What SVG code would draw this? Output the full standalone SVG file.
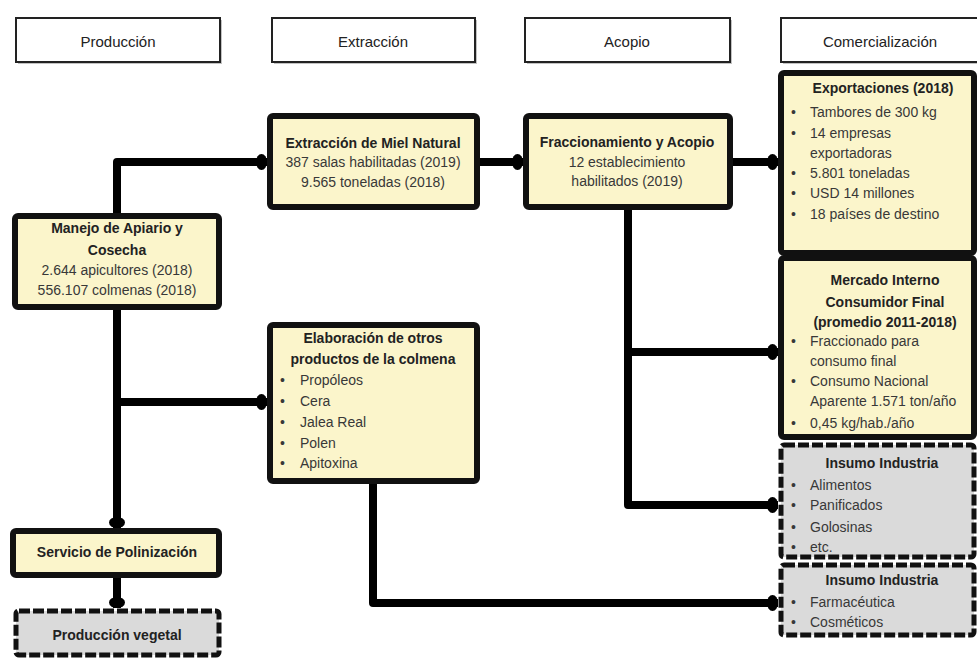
<svg xmlns="http://www.w3.org/2000/svg" width="977" height="660" viewBox="0 0 977 660">
<defs>
<style>
text{font-family:"Liberation Sans",Arial,sans-serif;font-size:14px;fill:#383838}
.b{font-weight:bold;fill:#222}
.c{text-anchor:middle}
.h{font-size:15px;fill:#222}
.hdr{fill:#fff;stroke:#222;stroke-width:2}
.sh{fill:#999;opacity:.6}
.y{fill:#FBF5CB;stroke:#111;stroke-width:6}
.g{fill:#DADADA;stroke:#111;stroke-width:5;stroke-dasharray:11 3}
.con{fill:none;stroke:#000;stroke-width:8;stroke-linejoin:round}
</style>
<marker id="dot" markerUnits="userSpaceOnUse" viewBox="0 0 11 17" markerWidth="11" markerHeight="17" refX="11" refY="8.5" orient="auto">
<ellipse cx="5.5" cy="8.5" rx="5.5" ry="8" fill="#000"/>
</marker>
</defs>
<rect width="977" height="660" fill="#fff"/>

<g id="hdr-produccion">
<rect class="sh" x="18" y="20" width="204" height="44"/>
<rect class="hdr" x="16" y="18" width="204" height="44"/>
<text class="h c" x="118" y="47">Producción</text>
</g>
<g id="hdr-extraccion">
<rect class="sh" x="274" y="20" width="203" height="44"/>
<rect class="hdr" x="272" y="18" width="203" height="44"/>
<text class="h c" x="373" y="47">Extracción</text>
</g>
<g id="hdr-acopio">
<rect class="sh" x="527" y="20" width="205" height="44"/>
<rect class="hdr" x="525" y="18" width="205" height="44"/>
<text class="h c" x="627" y="47">Acopio</text>
</g>
<g id="hdr-comercializacion">
<rect class="sh" x="783" y="20" width="200" height="44"/>
<rect class="hdr" x="781" y="18" width="200" height="44"/>
<text class="h c" x="880" y="47">Comercialización</text>
</g>

<g id="connectors">
<path class="con" d="M117 213 V162 H267" marker-end="url(#dot)"/>
<path class="con" d="M480 162 H523" marker-end="url(#dot)"/>
<path class="con" d="M733 162 H778" marker-end="url(#dot)"/>
<path class="con" d="M628 210 V505 H778" marker-end="url(#dot)"/>
<path class="con" d="M628 352 H778" marker-end="url(#dot)"/>
<path class="con" d="M117 310 V528" marker-end="url(#dot)"/>
<path class="con" d="M117 402 H267" marker-end="url(#dot)"/>
<path class="con" d="M117 578 V608" marker-end="url(#dot)"/>
<path class="con" d="M373 484 V603 H778" marker-end="url(#dot)"/>
</g>

<g id="manejo">
<rect class="y" x="15" y="216" width="204" height="91" rx="3"/>
<text class="b c" x="117" y="233">Manejo de Apiario y</text>
<text class="b c" x="117" y="255">Cosecha</text>
<text class="c" x="117" y="275">2.644 apicultores (2018)</text>
<text class="c" x="117" y="295">556.107 colmenas (2018)</text>
</g>

<g id="extraccion">
<rect class="y" x="270" y="116" width="207" height="91" rx="3"/>
<text class="b c" x="373" y="148">Extracción de Miel Natural</text>
<text class="c" x="373" y="167">387 salas habilitadas (2019)</text>
<text class="c" x="373" y="187">9.565 toneladas (2018)</text>
</g>

<g id="fraccionamiento">
<rect class="y" x="526" y="116" width="204" height="91" rx="3"/>
<text class="b c" x="627" y="147">Fraccionamiento y Acopio</text>
<text class="c" x="627" y="167">12 establecimiento</text>
<text class="c" x="627" y="186">habilitados (2019)</text>
</g>

<g id="elaboracion">
<rect class="y" x="270" y="325" width="207" height="156" rx="3"/>
<text class="b c" x="373" y="343">Elaboración de otros</text>
<text class="b c" x="373" y="364">productos de la colmena</text>
<text x="280" y="385">•</text><text x="300" y="385">Propóleos</text>
<text x="280" y="406">•</text><text x="300" y="406">Cera</text>
<text x="280" y="427">•</text><text x="300" y="427">Jalea Real</text>
<text x="280" y="448">•</text><text x="300" y="448">Polen</text>
<text x="280" y="468">•</text><text x="300" y="468">Apitoxina</text>
</g>

<g id="servicio">
<rect class="y" x="13" y="531" width="206" height="44" rx="3"/>
<text class="b c" x="117" y="557">Servicio de Polinización</text>
</g>

<g id="produccion-vegetal">
<rect class="g" x="16" y="611" width="203" height="44" rx="3"/>
<text class="b c" x="117" y="640">Producción vegetal</text>
</g>

<g id="exportaciones">
<rect class="y" x="781" y="73" width="193" height="180" rx="3"/>
<text class="b c" x="883" y="93">Exportaciones (2018)</text>
<text x="791" y="117">•</text><text x="810" y="117">Tambores de 300 kg</text>
<text x="791" y="138">•</text><text x="810" y="138">14 empresas</text>
<text x="810" y="158">exportadoras</text>
<text x="791" y="178">•</text><text x="810" y="178">5.801 toneladas</text>
<text x="791" y="198">•</text><text x="810" y="198">USD 14 millones</text>
<text x="791" y="219">•</text><text x="810" y="219">18 países de destino</text>
</g>

<g id="mercado-interno">
<rect class="y" x="781" y="258" width="193" height="179" rx="3"/>
<text class="b c" x="885" y="285">Mercado Interno</text>
<text class="b c" x="885" y="307">Consumidor Final</text>
<text class="b c" x="885" y="327">(promedio 2011-2018)</text>
<text x="791" y="346">•</text><text x="810" y="346">Fraccionado para</text>
<text x="810" y="366">consumo final</text>
<text x="791" y="386">•</text><text x="810" y="386">Consumo Nacional</text>
<text x="810" y="406">Aparente 1.571 ton/año</text>
<text x="791" y="428">•</text><text x="810" y="428">0,45 kg/hab./año</text>
</g>

<g id="insumo-alimentos">
<rect class="g" x="781" y="445" width="193" height="112" rx="3"/>
<text class="b c" x="882" y="468">Insumo Industria</text>
<text x="791" y="490">•</text><text x="810" y="490">Alimentos</text>
<text x="791" y="510">•</text><text x="810" y="510">Panificados</text>
<text x="791" y="532">•</text><text x="810" y="532">Golosinas</text>
<text x="791" y="552">•</text><text x="810" y="552">etc.</text>
</g>

<g id="insumo-farma">
<rect class="g" x="781" y="565" width="193" height="70" rx="3"/>
<text class="b c" x="882" y="585">Insumo Industria</text>
<text x="791" y="607">•</text><text x="810" y="607">Farmacéutica</text>
<text x="791" y="627">•</text><text x="810" y="627">Cosméticos</text>
</g>
</svg>
